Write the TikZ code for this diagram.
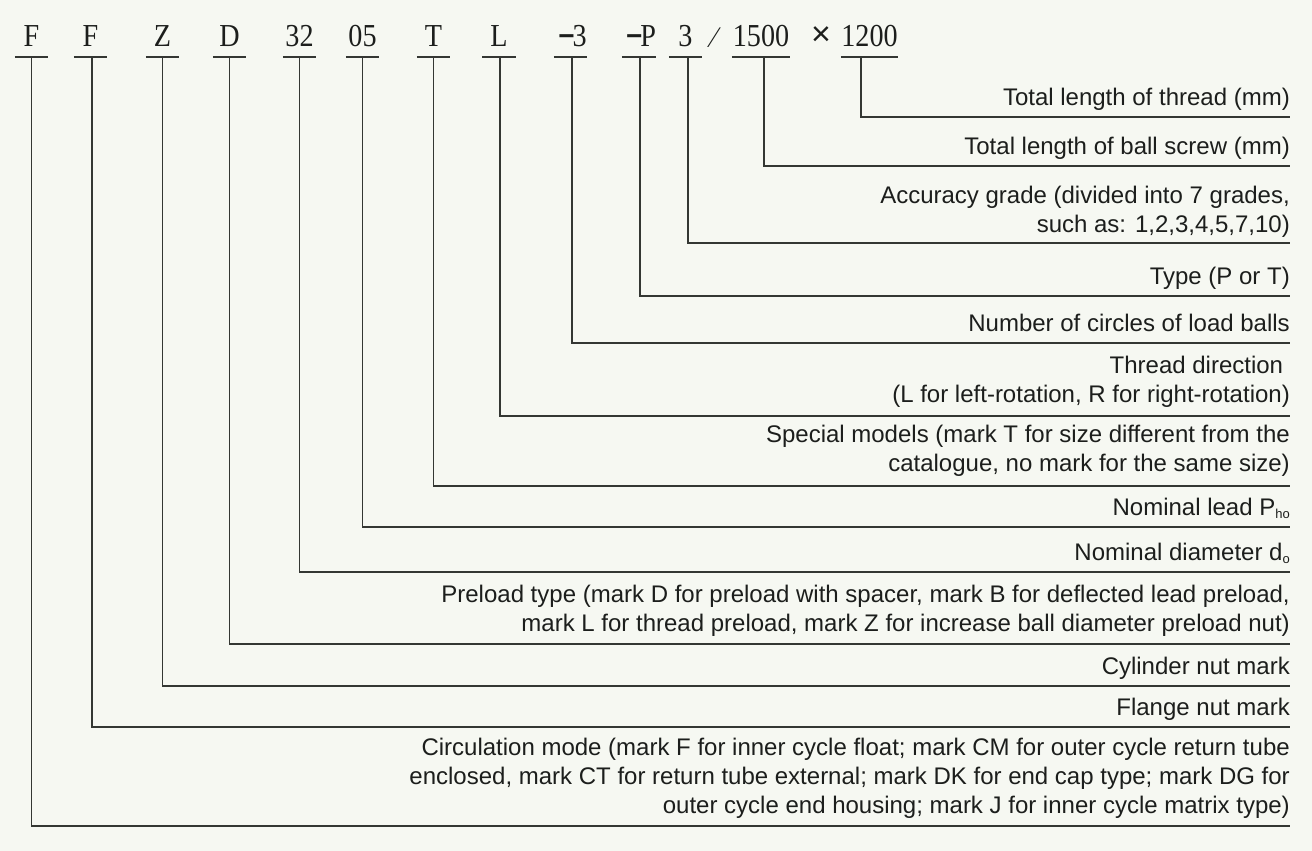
\documentclass[tikz,border=0pt]{standalone}
\usepackage{fontspec}
\setmainfont{Liberation Sans}
\newfontfamily\hdrfont[FakeStretch=0.88]{Liberation Serif}
\newfontfamily\symfont{Liberation Sans}
\usetikzlibrary{calc}
\definecolor{bg}{RGB}{246,248,242}
\definecolor{ink}{RGB}{28,30,28}
\definecolor{lc}{RGB}{52,55,51}
\newcommand{\hmin}{\raisebox{1pt}{\symfont\bfseries\fontsize{28}{28}\selectfont −}}
\begin{document}
\begin{tikzpicture}[x=1pt,y=-1pt,
  hd/.style={font=\hdrfont\fontsize{32}{32}\selectfont, text=ink, anchor=base,
    inner xsep=0pt, inner ysep=10pt, text depth=0pt, minimum width=33pt},
  ul/.style={draw=lc, line width=1.4pt},
  ln/.style={draw=lc, line width=1.5pt},
  lab/.style={font=\fontsize{24}{29.5}\selectfont, text=ink, align=right,
    inner sep=0pt, text depth=0pt, anchor=south east}]
\useasboundingbox[fill=bg] (0,0) rectangle (1312,851);

% header code
\node[hd] (h1) at (31.5,47) {F};
\node[hd] (h2) at (90.5,47) {F};
\node[hd] (h3) at (162.5,47) {Z};
\node[hd] (h4) at (229.5,47) {D};
\node[hd] (h5) at (299.5,47) {32};
\node[hd] (h6) at (362.5,47) {05};
\node[hd] (h7) at (433.5,47) {T};
\node[hd] (h8) at (499,47) {L};
\node[hd] (h9) at (570.5,47) {\hspace*{4pt}\hmin\hspace{-2pt}3};
\node[hd] (h10) at (639,47) {\hspace*{4pt}\hmin\hspace{-2pt}P};
\node[hd] (h11) at (685.5,47) {3};
\node[hd, font=\hdrfont\fontsize{30}{30}\selectfont, minimum width=0pt] (sl) at (714,48) {⁄};
\node[hd, minimum width=58pt] (h12) at (761,47) {1500};
\node[hd, font=\symfont\fontsize{34}{34}\selectfont, minimum width=0pt] (tm) at (821,46) {×};
\node[hd, minimum width=57pt] (h13) at (869.5,47) {1200};

\foreach \n in {h1,h2,h3,h4,h5,h6,h7,h8,h9,h10,h11,h12,h13}
  \draw[ul] (\n.south west) -- (\n.south east);

% line ends
\coordinate (e1) at (1290,117);
\coordinate (e2) at (1290,166);
\coordinate (e3) at (1290,243);
\coordinate (e4) at (1290,296);
\coordinate (e5) at (1290,343);
\coordinate (e6) at (1290,416);
\coordinate (e7) at (1290,486);
\coordinate (e8) at (1290,527);
\coordinate (e9) at (1290,572);
\coordinate (e10) at (1290,644);
\coordinate (e11) at (1290,686);
\coordinate (e12) at (1290,727);
\coordinate (e13) at (1290,826);

% labels
\node[lab] (t1) at ([yshift=11pt]e1) {Total length of thread (mm)};
\node[lab] (t2) at ([yshift=11pt]e2) {Total length of ball screw (mm)};
\node[lab] (t3) at ([yshift=10pt]e3) {Accuracy grade (divided into 7 grades,\\such as: 1,2,3,4,5,7,10)};
\node[lab] (t4) at ([yshift=11pt]e4) {Type (P or T)};
\node[lab] (t5) at ([yshift=11pt]e5) {Number of circles of load balls};
\node[lab] (t6) at ([yshift=13pt]e6) {Thread direction\hspace*{0.278em}\\(L for left-rotation, R for right-rotation)};
\node[lab] (t7) at ([yshift=14pt]e7) {Special models (mark T for size different from the\\catalogue, no mark for the same size)};
\node[lab] (t8) at ([yshift=11pt]e8) {Nominal lead P\raisebox{-2.5pt}{\fontsize{13}{13}\selectfont ho}};
\node[lab] (t9) at ([yshift=11pt]e9) {Nominal diameter d\raisebox{-2.5pt}{\fontsize{13}{13}\selectfont o}};
\node[lab] (t10) at ([yshift=12pt]e10) {Preload type (mark D for preload with spacer, mark B for deflected lead preload,\\mark L for thread preload, mark Z for increase ball diameter preload nut)};
\node[lab] (t11) at ([yshift=11pt]e11) {Cylinder nut mark};
\node[lab] (t12) at ([yshift=11pt]e12) {Flange nut mark};
\node[lab, font=\fontsize{24}{29}\selectfont] (t13) at ([yshift=12pt]e13) {Circulation mode (mark F for inner cycle float; mark CM for outer cycle return tube\\enclosed, mark CT for return tube external; mark DK for end cap type; mark DG for\\outer cycle end housing; mark J for inner cycle matrix type)};

% connectors
\draw[ln] (h13.south) ++(-8.5,0) |- (e1);
\draw[ln] ([xshift=3pt]h12.south) |- (e2);
\draw[ln] ([xshift=2.5pt]h11.south) |- (e3);
\draw[ln] ([xshift=1pt]h10.south) |- (e4);
\draw[ln] ([xshift=1.5pt]h9.south) |- (e5);
\draw[ln] ([xshift=1pt]h8.south) |- (e6);
\draw[ln] (h7.south) |- (e7);
\draw[ln] (h6.south) |- (e8);
\draw[ln] (h5.south) |- (e9);
\draw[ln] (h4.south) |- (e10);
\draw[ln] (h3.south) |- (e11);
\draw[ln] ([xshift=1.5pt]h2.south) |- (e12);
\draw[ln] (h1.south) |- (e13);
\end{tikzpicture}
\end{document}
